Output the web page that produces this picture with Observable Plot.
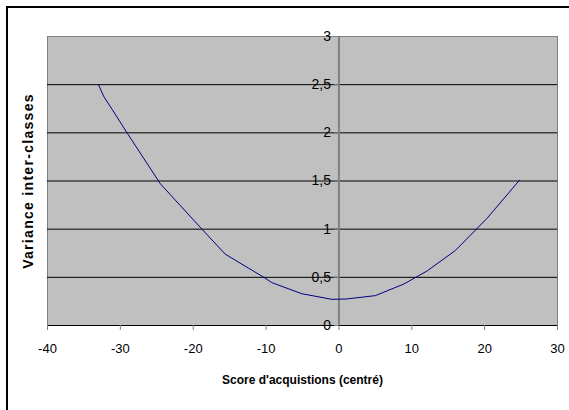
<!DOCTYPE html>
<html>
<head>
<meta charset="utf-8">
<script src="https://cdn.jsdelivr.net/npm/d3@7"></script>
<script src="https://cdn.jsdelivr.net/npm/@observablehq/plot@0.6"></script>
<style>
  html, body { margin: 0; padding: 0; background: #fff; overflow: hidden; }
  #wrap { position: relative; width: 569px; height: 410px; overflow: hidden; }
  #frame { position: absolute; left: 6px; top: 6px; width: 620px; height: 460px; border: 2px solid #000; box-sizing: border-box; pointer-events: none; }
  #chart { position: absolute; left: 0; top: 0; }
</style>
</head>
<body>
<div id="wrap"><div id="chart"></div><div id="frame"></div></div>
<script>
// Curve points
const scoreX = [-33, -32.3, -31.1, -29, -24.5, -18.8, -15.6, -10.3, -9.2, -5.1, -1, 1, 5, 8.9, 12.1, 16, 20.3, 24.8];
const varianceY = [2.50, 2.38, 2.24, 1.99, 1.47, 1.00, 0.74, 0.50, 0.445, 0.33, 0.272, 0.275, 0.31, 0.43, 0.566, 0.78, 1.11, 1.51];

const xTicks = [-40, -30, -20, -10, 0, 10, 20, 30];
const yTicks = [0, 0.5, 1, 1.5, 2, 2.5, 3];
const yTickLabels = ["0", "0,5", "1", "1,5", "2", "2,5", "3"];
const gridLines = [0.5, 1, 1.5, 2, 2.5];

const xTitle = "Score d'acquistions (centré)";
const yTitle = "Variance inter-classes";

const data = scoreX.map((x, i) => ({x, y: varianceY[i]}));
const yLab = yTicks.map((v, i) => ({v, t: yTickLabels[i]}));

const tickFont = "'Liberation Sans', Arial, sans-serif";
const titleFont = "'Liberation Sans', Arial, sans-serif";

const chart = Plot.plot({
  width: 569,
  height: 410,
  marginLeft: 47,
  marginRight: 12,
  marginTop: 36,
  marginBottom: 85,
  style: {background: "transparent", fontFamily: tickFont, color: "#000"},
  x: {domain: [-40, 30], axis: null},
  y: {domain: [0, 3], axis: null},
  marks: [
    Plot.frame({fill: "#c0c0c0", stroke: "#808080"}),
    Plot.ruleY(gridLines, {stroke: "#000", strokeWidth: 1}),
    Plot.ruleX([0], {stroke: "#808080", strokeWidth: 2}),
    Plot.ruleY([0], {stroke: "#000", strokeWidth: 1}),
    Plot.ruleY(yTicks, {y: d => d, x1: -0.6, x2: 0, stroke: "#808080"}),
    Plot.line(data, {x: "x", y: "y", stroke: "#000080", strokeWidth: 1}),
    Plot.axisX({ticks: xTicks, tickSize: 5, tickPadding: 13, tickFormat: d => String(d),
      stroke: "#808080", fill: "#000", fontSize: 13, fontFamily: tickFont, label: null}),
    Plot.text(yLab, {x: () => 0, y: "v", text: "t", textAnchor: "end", dx: -8, fontSize: 14, fontFamily: tickFont, fill: "#000"}),
    Plot.text([xTitle], {frameAnchor: "bottom", dy: 58, fontSize: 12, fontWeight: "bold", fontFamily: titleFont, fill: "#000"}),
    Plot.text([yTitle], {frameAnchor: "left", dx: -19, rotate: -90, textAnchor: "middle", fontSize: 14, fontWeight: "bold", fontFamily: titleFont, fill: "#000"})
  ]
});
d3.select(chart).selectAll("text").filter(function() { return this.textContent === yTitle; })
  .attr("letter-spacing", "1.3px");
document.getElementById("chart").appendChild(chart);
</script>
</body>
</html>
